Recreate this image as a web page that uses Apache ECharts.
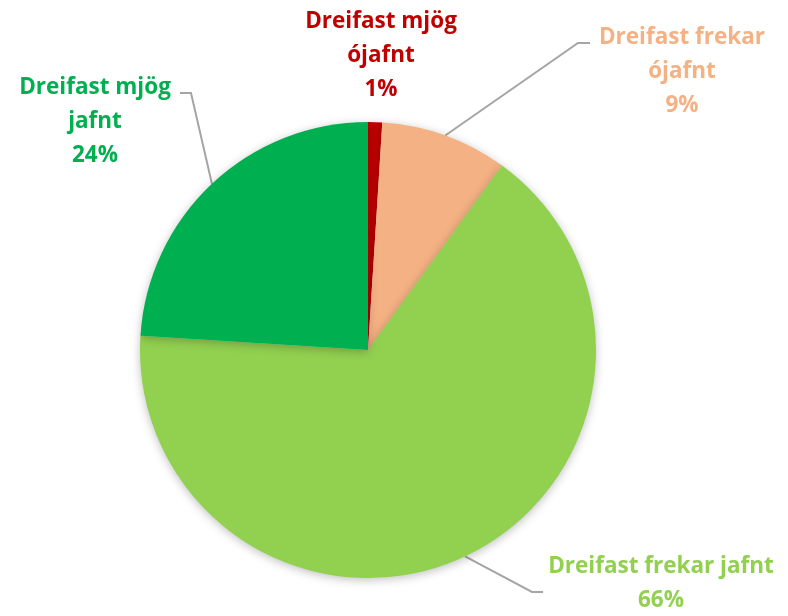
<!DOCTYPE html>
<html>
<head>
<meta charset="utf-8">
<script src="https://cdn.jsdelivr.net/npm/echarts@6/dist/echarts.min.js"></script>
<style>
  html, body { margin: 0; padding: 0; background: #fff; }
  #chart { width: 788px; height: 616px; }
</style>
</head>
<body>
<div id="chart"></div>
<script>
const categories = ['Dreifast mjög\nójafnt', 'Dreifast frekar\nójafnt', 'Dreifast frekar jafnt', 'Dreifast mjög\njafnt']
const values = [1, 9, 66, 24]
const colors = ['#C00000', '#F4B183', '#92D050', '#00B050']

// label centres and leader-line bends (layout only)
const labelPos = [[381, 56], [682, 72], [661, 584], [95, 122]]
const leaderBend = [null, [[578, 43], [590, 43]], [[532, 592], [543, 592]], [[191, 93], [180, 93]]]

;(function () {
  pieChart()
})()

function pieChart() {
  let chart = echarts.init(document.getElementById('chart'))
  let option = {
    animation: false,
    series: [
      {
        type: 'pie',
        center: [368, 350],
        radius: 228,
        startAngle: 90,
        clockwise: true,
        label: {
          show: true,
          position: 'outside',
          formatter: '{b}\n{d}%',
          fontFamily: 'Open Sans',
          fontWeight: 'bold',
          fontSize: 22.5,
          lineHeight: 34,
          align: 'center',
          overflow: 'none',
        },
        labelLine: {
          show: true,
          lineStyle: { color: '#A5A5A5', width: 2 },
        },
        labelLayout: function (params) {
          let i = params.dataIndex
          let p = labelPos[i]
          let res = { x: p[0], y: p[1], align: 'center', verticalAlign: 'middle' }
          if (leaderBend[i] && params.labelLinePoints) {
            res.labelLinePoints = [params.labelLinePoints[0]].concat(leaderBend[i])
          }
          return res
        },
        itemStyle: {
          shadowBlur: 10,
          shadowColor: 'rgba(0,0,0,0.25)',
          shadowOffsetY: 2,
        },
        data: categories.map(function (name, i) {
          return {
            name: name,
            value: values[i],
            itemStyle: { color: colors[i] },
            label: { color: colors[i] },
            labelLine: { show: i !== 0 },
          }
        }),
      },
    ],
  }
  chart.setOption(option)
}
</script>
</body>
</html>
